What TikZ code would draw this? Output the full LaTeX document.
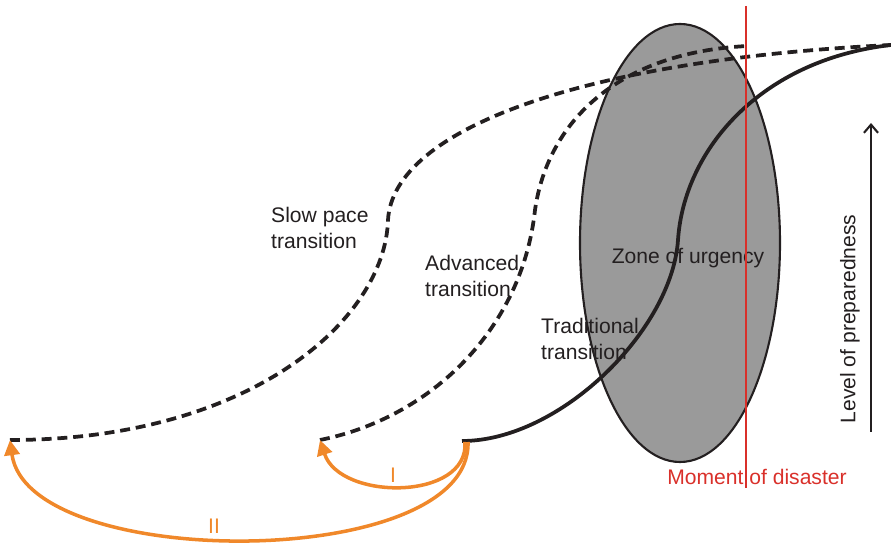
\documentclass[tikz,border=0pt]{standalone}
\usepackage{fontspec}
\setmainfont{Liberation Sans}
\usetikzlibrary{arrows.meta,shapes.geometric}
\definecolor{inkc}{HTML}{231F20}
\definecolor{zonegray}{HTML}{9A9A9A}
\definecolor{disred}{HTML}{D9302A}
\definecolor{orng}{HTML}{F0882A}
\begin{document}
\begin{tikzpicture}[x=0.03cm,y=-0.03cm,
  lbl/.style={font=\fontsize{18}{22}\selectfont, text=inkc, inner sep=0pt, align=left},
  dashcurve/.style={draw=inkc, line width=3.2pt, dash pattern=on 8.5pt off 5pt},
  solidcurve/.style={draw=inkc, line width=3.2pt},
  orarrow/.style={draw=orng, line width=3pt, -{Triangle[length=13pt,width=13pt]}}]
\useasboundingbox (0,0) rectangle (891,545);
% zone of urgency
\node[ellipse, draw=inkc, line width=1.8pt, fill=zonegray, inner sep=0pt, outer sep=0pt,
      minimum width=6cm, minimum height=13.14cm] (zone) at (680,243) {};
\node[lbl] (zonelbl) at (688,258) {Zone of urgency};
% endpoints
\coordinate (slowS) at (10,440);
\coordinate (slowM) at (388,220);
\coordinate (advS) at (320,440);
\coordinate (advM) at (535,210);
\coordinate (advE) at (748,46);
\coordinate (tradS) at (462,441);
\coordinate (tradM) at (678,240);
\coordinate (endP) at (891,45);
% curves
\draw[dashcurve] (slowS) .. controls (250,440) and (385,320) .. (slowM)
  .. controls (393,130) and (580,60) .. (endP);
\draw[dashcurve] (advS) .. controls (430,418) and (522,330) .. (advM)
  .. controls (548,120) and (620,52) .. (advE);
\draw[solidcurve] (tradS) .. controls (560,441) and (672,330) .. (tradM)
  .. controls (684,150) and (760,60) .. (endP);
% moment of disaster
\coordinate (redT) at (746,6);
\coordinate (redB) at (746,488);
\draw[disred, line width=1.8pt] (redT) -- (redB);
\node[font=\fontsize{18}{22}\selectfont, text=disred, inner sep=0pt] (dis) at (757,477) {Moment of disaster};
% level of preparedness
\coordinate (lvlB) at (871,432);
\coordinate (lvlT) at (871,123);
\draw[inkc, line width=1.8pt, -{Straight Barb[length=7pt,width=12pt]}] (lvlB) -- (lvlT);
\node[lbl, rotate=90] (lvl) at (850,319) {Level of preparedness};
% labels
\node[lbl, anchor=west] (slowlbl) at (271,228) {Slow pace\\transition};
\node[lbl, anchor=west] (advlbl) at (425,276) {Advanced\\transition};
\node[lbl, anchor=west] (tradlbl) at (541,339) {Traditional\\transition};
% orange arrows
\coordinate (oS1) at (465,442);
\coordinate (oS2) at (468,442);
\draw[orarrow] (oS1) .. controls (469,501) and (340,501) .. (advS);
\draw[orarrow] (oS2) .. controls (472,572) and (28,572) .. (slowS);
\node[font=\fontsize{18}{22}\selectfont, text=orng, inner sep=0pt] (one) at (393,475) {I};
\node[font=\fontsize{18}{22}\selectfont, text=orng, inner sep=0pt] (two) at (214,526) {II};
\end{tikzpicture}
\end{document}
